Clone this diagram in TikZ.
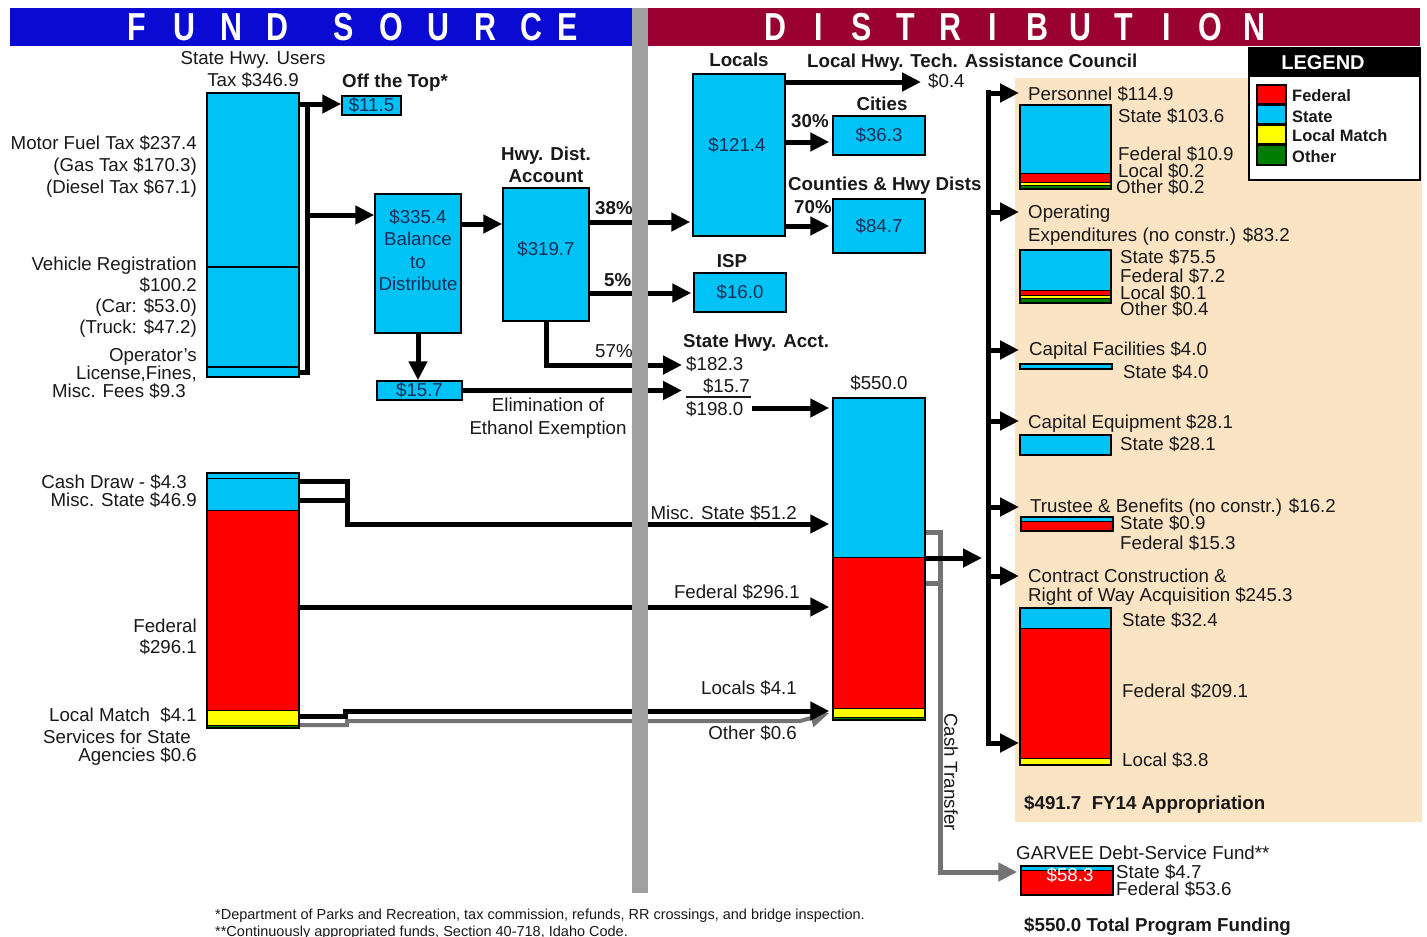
\documentclass[tikz,border=0pt]{standalone}
\usepackage{fontspec}
\setmainfont{Liberation Sans}
\usetikzlibrary{arrows.meta,fit}
\definecolor{cy}{RGB}{0,195,245}
\definecolor{rd}{RGB}{255,0,0}
\definecolor{yl}{RGB}{255,255,0}
\definecolor{gn}{RGB}{0,125,0}
\definecolor{beige}{RGB}{250,228,196}
\definecolor{hblue}{RGB}{10,10,210}
\definecolor{hred}{RGB}{155,0,50}
\definecolor{divg}{RGB}{160,160,160}
\definecolor{ctg}{RGB}{115,115,115}
\definecolor{txt}{RGB}{25,25,25}
\definecolor{btxt}{RGB}{25,45,90}
\begin{document}
\begin{tikzpicture}[x=1pt,y=-1pt,
  t/.style={font=\fontsize{18.7}{22}\selectfont, inner sep=0pt, text=txt},
  tb/.style={font=\fontsize{18.7}{22}\selectfont\bfseries, inner sep=0pt, text=txt},
  W/.style={anchor=base west, yshift=-6.5pt},
  E/.style={anchor=base east, yshift=-6.5pt},
  C/.style={anchor=base, yshift=-6.5pt},
  bt/.style={font=\fontsize{18.7}{22.5}\selectfont, inner sep=0pt, text=btxt, align=center},
  bx/.style={draw=black, line width=1.5pt, inner sep=0pt},
  cbx/.style={bx, fill=cy},
  seg/.style={draw=black, line width=1pt},
  ln/.style={draw=black, line width=5pt},
  arr/.style={ln, -{Triangle[length=19pt,width=18pt]}},
  garr/.style={draw=ctg, line width=5pt, -{Triangle[length=19pt,width=18pt]}},
  hdr/.style={font=\fontsize{39}{39}\selectfont\bfseries, text=white, inner sep=0pt, xscale=0.78},
  lg/.style={font=\fontsize{16.5}{20}\selectfont\bfseries, inner sep=0pt, text=txt, anchor=base west, yshift=-6pt},
  fn/.style={font=\fontsize{14.5}{16}\selectfont, inner sep=0pt, text=txt, anchor=base west, yshift=-5pt},
]
\useasboundingbox[fill=white] (0,0) rectangle (1427,937);

% ---------- header ----------
\fill[hblue] (10,8) rectangle (632,46);
\fill[hred] (648,8) rectangle (1420,46);
\foreach \l/\x [count=\i] in {F/137,U/184,N/231,D/277,S/344,O/391,U/438,R/485,C/531,E/568}
  \node[hdr] (hf\i) at (\x,27) {\l};
\foreach \l/\x [count=\i] in {D/775,I/819,S/862,T/906,R/950,I/993,B/1037,U/1080,T/1124,I/1167,O/1210,N/1254}
  \node[hdr] (hd\i) at (\x,27) {\l};

% ---------- beige panel and legend ----------
\fill[beige] (1015,78) rectangle (1422,822);
\node[bx, fill=white, fit={(1249,48) (1420,180)}] (legend) {};
\fill[black] (1249,48) rectangle (1420,77);
\node[font=\fontsize{20}{20}\selectfont\bfseries, text=white, inner sep=0pt] (legt) at (1323,63) {LEGEND};
\node[bx, fill=rd, fit={(1257,85) (1286,104)}] (sw1) {};
\node[bx, fill=cy, fit={(1257,105) (1286,124)}] (sw2) {};
\node[bx, fill=yl, fit={(1257,125) (1286,144)}] (sw3) {};
\node[bx, fill=gn, fit={(1257,145) (1286,165)}] (sw4) {};
\node[lg] (lg1) at (1292,95) {Federal};
\node[lg] (lg2) at (1292,116) {State};
\node[lg] (lg3) at (1292,135) {Local Match};
\node[lg] (lg4) at (1292,156) {Other};

% ---------- fund source: top ----------
\node[t,C] (shu1) at (253,58) {State Hwy. Users};
\node[t,C] (shu2) at (253,80) {Tax \$346.9};
\node[tb,W] (ott) at (342,81) {Off the Top*};
\node[cbx, fit={(207,93) (299,377)}] (usr) {};
\draw[line width=1.5pt] (207,267) -- (299,267) (207,367) -- (299,367);
\node[cbx, fit={(342,96) (401,115)}] (top) {};
\node[bt] (topt) at (top.center) {\$11.5};
% multi-line nodes: base anchor = last line
\node[t,E,align=right] (mft) at (197,187) {Motor Fuel Tax \$237.4\\(Gas Tax \$170.3)\\(Diesel Tax \$67.1)};
\node[t,E,align=right,font=\fontsize{18.7}{21}\selectfont] (vr) at (197,327) {Vehicle Registration\\\$100.2\\(Car: \$53.0)\\(Truck: \$47.2)};
\node[t,E,align=right,font=\fontsize{18.7}{18}\selectfont] (op) at (197,373) {Operator's\\License,Fines,};
\node[t,E] (op3) at (186,391) {Misc. Fees \$9.3};

\node[cbx, fit={(375,194) (461,333)}] (bal) {};
\node[bt] (balt) at (418,250) {\$335.4\\Balance\\to\\Distribute};
\node[tb,C,align=center] (hdat) at (546,176) {Hwy. Dist.\\Account};
\node[cbx, fit={(503,188) (589,321)}] (hda) {};
\node[bt] (hdav) at (546,249) {\$319.7};
\node[cbx, fit={(377,381) (462,400)}] (eth) {};
\node[bt] (etht) at (eth.center) {\$15.7};
\node[t,C,align=center,font=\fontsize{18.7}{23}\selectfont] (elim) at (548,428) {Elimination of\\Ethanol Exemption};
\node[tb,W] (p38) at (595,208) {38\%};
\node[tb,W] (p5) at (604,280) {5\%};
\node[t,W] (p57) at (595,351) {57\%};

% ---------- distribution: locals ----------
\node[tb,C] (loct) at (739,60) {Locals};
\node[tb,W] (lhtac) at (807,61) {Local Hwy. Tech. Assistance Council};
\node[cbx, fit={(693,74) (785,236)}] (loc) {};
\node[bt] (locv) at (737,145) {\$121.4};
\node[t,W] (p04) at (928,81) {\$0.4};
\coordinate (p04a) at (921,82);
\node[tb,C] (citt) at (882,104) {Cities};
\node[tb,W] (p30) at (791,121) {30\%};
\node[cbx, fit={(833,116) (925,155)}] (cit) {};
\node[bt] (citv) at (cit.center) {\$36.3};
\node[tb,W] (ctyt) at (788,184) {Counties \& Hwy Dists};
\node[tb,W] (p70) at (794,207) {70\%};
\node[cbx, fit={(833,199) (925,253)}] (cty) {};
\node[bt] (ctyv) at (cty.center) {\$84.7};
\node[tb,C] (ispt) at (732,261) {ISP};
\node[cbx, fit={(694,273) (786,312)}] (isp) {};
\node[bt] (ispv) at (isp.center) {\$16.0};

% ---------- state highway account ----------
\node[tb,W] (sha) at (683,341) {State Hwy. Acct.};
\node[t,W] (s1823) at (686,364) {\$182.3};
\node[t,E] (s157) at (750,386) {\$15.7};
\draw[line width=1.5pt,draw=txt] (686,397) -- (751,397);
\node[t,W] (s198) at (686,409) {\$198.0};
\coordinate (a57) at (682,365);
\coordinate (a157) at (682,390.5);
\node[t,C] (t550) at (879,383) {\$550.0};

% big stacked box
\filldraw[seg, fill=cy] (833,398) rectangle (925,557);
\filldraw[seg, fill=rd] (833,557) rectangle (925,708);
\filldraw[seg, fill=yl] (833,708) rectangle (925,717);
\filldraw[seg, fill=gn] (833,717) rectangle (925,720);
\node[bx, fit={(833,398) (925,720)}] (big) {};

% lower-left stacked box
\filldraw[seg, fill=cy] (207,473) rectangle (299,478);
\filldraw[seg, fill=cy] (207,478) rectangle (299,510);
\filldraw[seg, fill=rd] (207,510) rectangle (299,710);
\filldraw[seg, fill=yl] (207,710) rectangle (299,725);
\filldraw[seg, fill=gn] (207,725) rectangle (299,728);
\node[bx, fit={(207,473) (299,728)}] (src) {};
\node[t,E] (cd) at (187,482) {Cash Draw - \$4.3};
\node[t,E] (ms) at (197,500) {Misc. State \$46.9};
\node[t,E,align=right,font=\fontsize{18.7}{21}\selectfont] (fed) at (197,647) {Federal\\\$296.1};
\node[t,E] (lm) at (197,715) {Local Match\ \ \$4.1};
\node[t,E] (sfs) at (191,737) {Services for State};
\node[t,E] (ag) at (197,755) {Agencies \$0.6};

\node[t,E] (ms51) at (797,513) {Misc. State \$51.2};
\node[t,E] (f296) at (800,592) {Federal \$296.1};
\node[t,E] (l41) at (797,688) {Locals \$4.1};
\node[t,E] (o06) at (797,733) {Other \$0.6};

% ---------- right panel ----------
\node[t,W] (pert) at (1028,94) {Personnel \$114.9};
\filldraw[seg, fill=cy] (1020,105) rectangle (1111,173);
\filldraw[seg, fill=rd] (1020,173) rectangle (1111,182);
\filldraw[seg, fill=yl] (1020,182) rectangle (1111,185);
\filldraw[seg, fill=gn] (1020,185) rectangle (1111,189);
\node[bx, fit={(1020,105) (1111,189)}] (per) {};
\node[t,W] (per1) at (1118,116) {State \$103.6};
\node[t,W] (per2) at (1118,154) {Federal \$10.9};
\node[t,W] (per3) at (1118,171) {Local \$0.2};
\node[t,W] (per4) at (1116,187) {Other \$0.2};

\node[t,W] (opet) at (1028,212) {Operating};
\node[t,W] (opet2) at (1028,235) {Expenditures (no constr.) \$83.2};
\filldraw[seg, fill=cy] (1020,250) rectangle (1111,290);
\filldraw[seg, fill=rd] (1020,290) rectangle (1111,295);
\filldraw[seg, fill=yl] (1020,295) rectangle (1111,298);
\filldraw[seg, fill=gn] (1020,298) rectangle (1111,303);
\node[bx, fit={(1020,250) (1111,303)}] (ope) {};
\node[t,W] (ope1) at (1120,257) {State \$75.5};
\node[t,W] (ope2) at (1120,276) {Federal \$7.2};
\node[t,W] (ope3) at (1120,293) {Local \$0.1};
\node[t,W] (ope4) at (1120,309) {Other \$0.4};

\node[t,W] (cfat) at (1029,349) {Capital Facilities \$4.0};
\node[cbx, fit={(1020,364) (1112,369)}] (cfa) {};
\node[t,W] (cfa1) at (1123,372) {State \$4.0};

\node[t,W] (ceqt) at (1028,422) {Capital Equipment \$28.1};
\node[cbx, fit={(1020,435) (1111,455)}] (ceq) {};
\node[t,W] (ceq1) at (1120,444) {State \$28.1};

\node[t,W] (trut) at (1030,506) {Trustee \& Benefits (no constr.) \$16.2};
\filldraw[seg, fill=cy] (1021,517) rectangle (1113,521);
\filldraw[seg, fill=rd] (1021,521) rectangle (1113,531);
\node[bx, fit={(1021,517) (1113,531)}] (tru) {};
\node[t,W] (tru1) at (1120,523) {State \$0.9};
\node[t,W] (tru2) at (1120,543) {Federal \$15.3};

\node[t,W] (cont) at (1028,576) {Contract Construction \&};
\node[t,W] (cont2) at (1028,595) {Right of Way Acquisition \$245.3};
\filldraw[seg, fill=cy] (1020,608) rectangle (1111,628);
\filldraw[seg, fill=rd] (1020,628) rectangle (1111,758);
\filldraw[seg, fill=yl] (1020,758) rectangle (1111,765);
\node[bx, fit={(1020,608) (1111,765)}] (con) {};
\node[t,W] (con1) at (1122,620) {State \$32.4};
\node[t,W] (con2) at (1122,691) {Federal \$209.1};
\node[t,W] (con3) at (1122,760) {Local \$3.8};

\node[tb,W] (fy14) at (1024,803) {\$491.7\ \ FY14 Appropriation};

\node[t,W] (gart) at (1016,853) {GARVEE Debt-Service Fund**};
\filldraw[seg, fill=cy] (1021,866) rectangle (1113,870);
\filldraw[seg, fill=rd] (1021,870) rectangle (1113,895);
\node[bx, fit={(1021,866) (1113,895)}] (gar) {};
\node[font=\fontsize{18.7}{22}\selectfont, text=white, inner sep=0pt] (garv) at (1070,875) {\$58.3};
\node[t,W] (gar1) at (1116,872) {State \$4.7};
\node[t,W] (gar2) at (1116,889) {Federal \$53.6};
\node[tb,W] (tot) at (1024,925) {\$550.0 Total Program Funding};

% ---------- footnotes ----------
\node[fn] (fn1) at (215,914) {*Department of Parks and Recreation, tax commission, refunds, RR crossings, and bridge inspection.};
\node[fn] (fn2) at (215,931) {**Continuously appropriated funds, Section 40-718, Idaho Code.};

% ---------- connectors ----------
\draw[ln] (usr.east |- 0,372) -- (307,372) -- (307,102);
\draw[arr] (usr.east |- 0,104) -- (top.west |- 0,104);
\draw[arr] (307,215) -- (bal.west |- 0,215);
\draw[arr] (bal.east |- 0,224) -- (hda.west |- 0,224);
\draw[arr] (bal.south) -- (bal.south |- eth.north);
\draw[arr] (eth.east) -- (a157);
\draw[arr] (hda.east |- 0,222) -- ([xshift=-2pt]loc.west |- 0,222);
\draw[arr] (hda.east |- 0,293) -- ([xshift=-2pt]isp.west |- 0,293);
\draw[arr] (hda.south) -- (546,365) -- (a57);

\draw[arr] (loc.east |- 0,82) -- (p04a);
\draw[arr] (loc.east |- 0,142) -- ([xshift=-3pt]cit.west |- 0,142);
\draw[arr] (loc.east |- 0,226) -- ([xshift=-3pt]cty.west |- 0,226);
\draw[arr] ([xshift=8pt]s198.east |- 0,408) -- ([xshift=-3pt]big.west |- 0,408);

\draw[ln] (src.east |- 0,500) -- (347,500);
\draw[arr] (src.east |- 0,481) -- (347,481) -- (347,524) -- ([xshift=-3pt]big.west |- 0,524);
\draw[arr] (src.east |- 0,607) -- ([xshift=-3pt]big.west |- 0,607);
\draw[garr, line width=4pt] (src.east |- 0,725) -- (347,725) -- (347,721) -- (800,721) -- ([xshift=-3pt]big.west |- 0,713);
\draw[arr] (src.east |- 0,716) -- (345,716) -- (345,711) -- ([xshift=-3pt]big.west |- 0,711);

% cash transfer
\draw[draw=ctg, line width=5pt] (big.east |- 0,583) -- (940,583);
\draw[garr] (big.east |- 0,532) -- (940,532) -- (940,872) -- ([xshift=-3pt]gar.west |- 0,872);
\node[t, rotate=-90, anchor=center] (ctt) at (951,772) {Cash Transfer};

% distribution bus
\draw[arr] (big.east |- 0,558) -- (982,558);
\draw[ln] (988,90) -- (988,746);
\foreach \yy/\nm in {93/b1,212/b2,350/b3,421/b4,507/b5,576/b6,743/b7}
  \draw[arr] (988,\yy) -- (1019,\yy) coordinate (\nm);

% divider
\fill[divg] (632,8) rectangle (648,893);
\end{tikzpicture}
\end{document}
